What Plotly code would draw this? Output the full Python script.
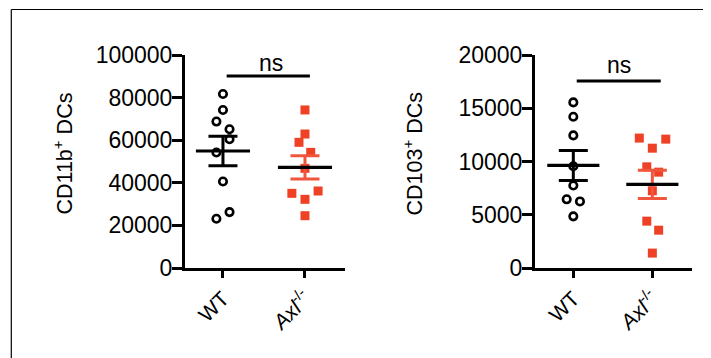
import numpy as np
import plotly.graph_objects as go

# ---- data ----
categories = ["WT", "<i>Axl</i><sup>-/-</sup>"]

cd11b_wt = [81700, 74200, 68750, 65150, 60450, 54200, 40600, 26250, 23100]
cd11b_axl = [74200, 62900, 59000, 54300, 46800, 36150, 35050, 32250, 24550]
cd103_wt = [15550, 14200, 12450, 9550, 7750, 6450, 6250, 4850]
cd103_axl = [12200, 12100, 11250, 9500, 9000, 7250, 4400, 3550, 1400]

# horizontal scatter offsets (category units)
cd11b_wt_jit = [0, 0, -0.08, 0.08, 0.08, -0.08, 0, 0.08, -0.08]
cd11b_axl_jit = [0, 0, -0.073, 0.07, 0, 0.16, -0.16, 0, 0]
cd103_wt_jit = [0, 0, 0, 0, 0, -0.084, 0.084, 0]
cd103_axl_jit = [-0.165, 0.17, 0, -0.07, 0.08, 0, -0.07, 0.08, 0]

left_ticks = [0, 20000, 40000, 60000, 80000, 100000]
right_ticks = [0, 5000, 10000, 15000, 20000]
left_title = "CD11b<sup>+</sup> DCs"
right_title = "CD103<sup>+</sup> DCs"
sig_label = "ns"

RED = "#EE4126"
RED_ERR = "#F0553D"
FONT = "Liberation Sans"

# page body adds an 8px offset; compensate in pixel placements
OFF = 8
W, H = 711, 358

fig = go.Figure()


def sem(v):
    v = np.asarray(v, dtype=float)
    return v.std(ddof=1) / np.sqrt(len(v))


def add_group(xa, ya, idx, vals, jit, kind):
    xs = [idx + j for j in jit]
    if kind == "wt":
        marker = dict(symbol="circle-open", size=7.5, color="black",
                      line=dict(color="black", width=2.6))
        ecol = "black"
    else:
        marker = dict(symbol="square", size=9, color=RED, line=dict(width=0))
        ecol = RED_ERR
    fig.add_trace(go.Scatter(x=xs, y=vals, mode="markers", marker=marker,
                             xaxis=xa, yaxis=ya, showlegend=False, hoverinfo="skip"))
    m = float(np.mean(vals))
    s = float(sem(vals))
    fig.add_trace(go.Scatter(x=[idx], y=[m], mode="markers",
                             marker=dict(size=1, color="rgba(0,0,0,0)"),
                             error_y=dict(type="data", array=[s], visible=True,
                                          color=ecol, thickness=3, width=14.5),
                             xaxis=xa, yaxis=ya, showlegend=False, hoverinfo="skip"))
    return m


def add_mean(xa, ya, idx, m):
    fig.add_trace(go.Scatter(x=[idx - 0.33, idx + 0.33], y=[m, m], mode="lines",
                             line=dict(color="black", width=3.2),
                             xaxis=xa, yaxis=ya, showlegend=False, hoverinfo="skip"))


m1 = add_group("x", "y", 0, cd11b_wt, cd11b_wt_jit, "wt")
m2 = add_group("x", "y", 1, cd11b_axl, cd11b_axl_jit, "axl")
m3 = add_group("x2", "y2", 0, cd103_wt, cd103_wt_jit, "wt")
m4 = add_group("x2", "y2", 1, cd103_axl, cd103_axl_jit, "axl")
add_mean("x", "y", 0, m1)
add_mean("x", "y", 1, m2)
add_mean("x2", "y2", 0, m3)
add_mean("x2", "y2", 1, m4)


def px_x(p):
    return (p - OFF) / W


def px_y(p):
    return (H - (p - OFF)) / H


ydom = [px_y(268), px_y(55)]

xcommon = dict(showgrid=False, zeroline=False, showline=True, linecolor="black",
               linewidth=3, ticks="outside", ticklen=7, tickwidth=3, tickcolor="black",
               tickvals=[0, 1], ticktext=categories, tickangle=-45,
               tickfont=dict(family=FONT, size=21, color="black"), automargin=False)
ycommon = dict(showgrid=False, zeroline=False, showline=True, linecolor="black",
               linewidth=3, ticks="outside", ticklen=10, tickwidth=3, tickcolor="black",
               tickformat="d", tickfont=dict(family=FONT, size=23, color="black"),
               ticklabelstandoff=-5, automargin=False)

fig.update_layout(
    width=W, height=H,
    margin=dict(l=0, r=0, t=0, b=0),
    paper_bgcolor="white", plot_bgcolor="white",
    xaxis=dict(xcommon, domain=[px_x(185), px_x(345)], range=[-0.463, 1.488], anchor="y"),
    yaxis=dict(ycommon, domain=ydom, range=[0, 100000], tickvals=left_ticks, anchor="x"),
    xaxis2=dict(xcommon, domain=[px_x(535), px_x(692)], range=[-0.485, 1.502], anchor="y2"),
    yaxis2=dict(ycommon, domain=ydom, range=[0, 20000], tickvals=right_ticks, anchor="x2"),
    showlegend=False,
)

# significance bars
fig.add_shape(type="line", xref="x", yref="y", x0=0.045, x1=1.06, y0=90150, y1=90150,
              line=dict(color="black", width=3.2))
fig.add_shape(type="line", xref="x2", yref="y2", x0=0.043, x1=1.106, y0=17560, y1=17560,
              line=dict(color="black", width=3.2))
fig.add_annotation(x=0.585, y=96300, xref="x", yref="y", text=sig_label, showarrow=False,
                   font=dict(family=FONT, size=23, color="black"), yanchor="middle")
fig.add_annotation(x=0.578, y=19060, xref="x2", yref="y2", text=sig_label, showarrow=False,
                   font=dict(family=FONT, size=23, color="black"), yanchor="middle")

# y titles
fig.add_annotation(x=px_x(62.5), y=px_y(154), xref="paper", yref="paper", text=left_title,
                   textangle=-90, showarrow=False, xanchor="center", yanchor="middle",
                   font=dict(family=FONT, size=21.5, color="black"))
fig.add_annotation(x=px_x(412.5), y=px_y(154), xref="paper", yref="paper", text=right_title,
                   textangle=-90, showarrow=False, xanchor="center", yanchor="middle",
                   font=dict(family=FONT, size=21.5, color="black"))

# outer frame (top and left edges)
fig.add_shape(type="line", xref="paper", yref="paper", x0=px_x(11.3), x1=1.0,
              y0=px_y(9.5), y1=px_y(9.5), line=dict(color="black", width=1.2))
fig.add_shape(type="line", xref="paper", yref="paper", x0=px_x(11.3), x1=px_x(11.3),
              y0=0, y1=px_y(9.5), line=dict(color="black", width=1.2))

fig.write_html("out.html")
